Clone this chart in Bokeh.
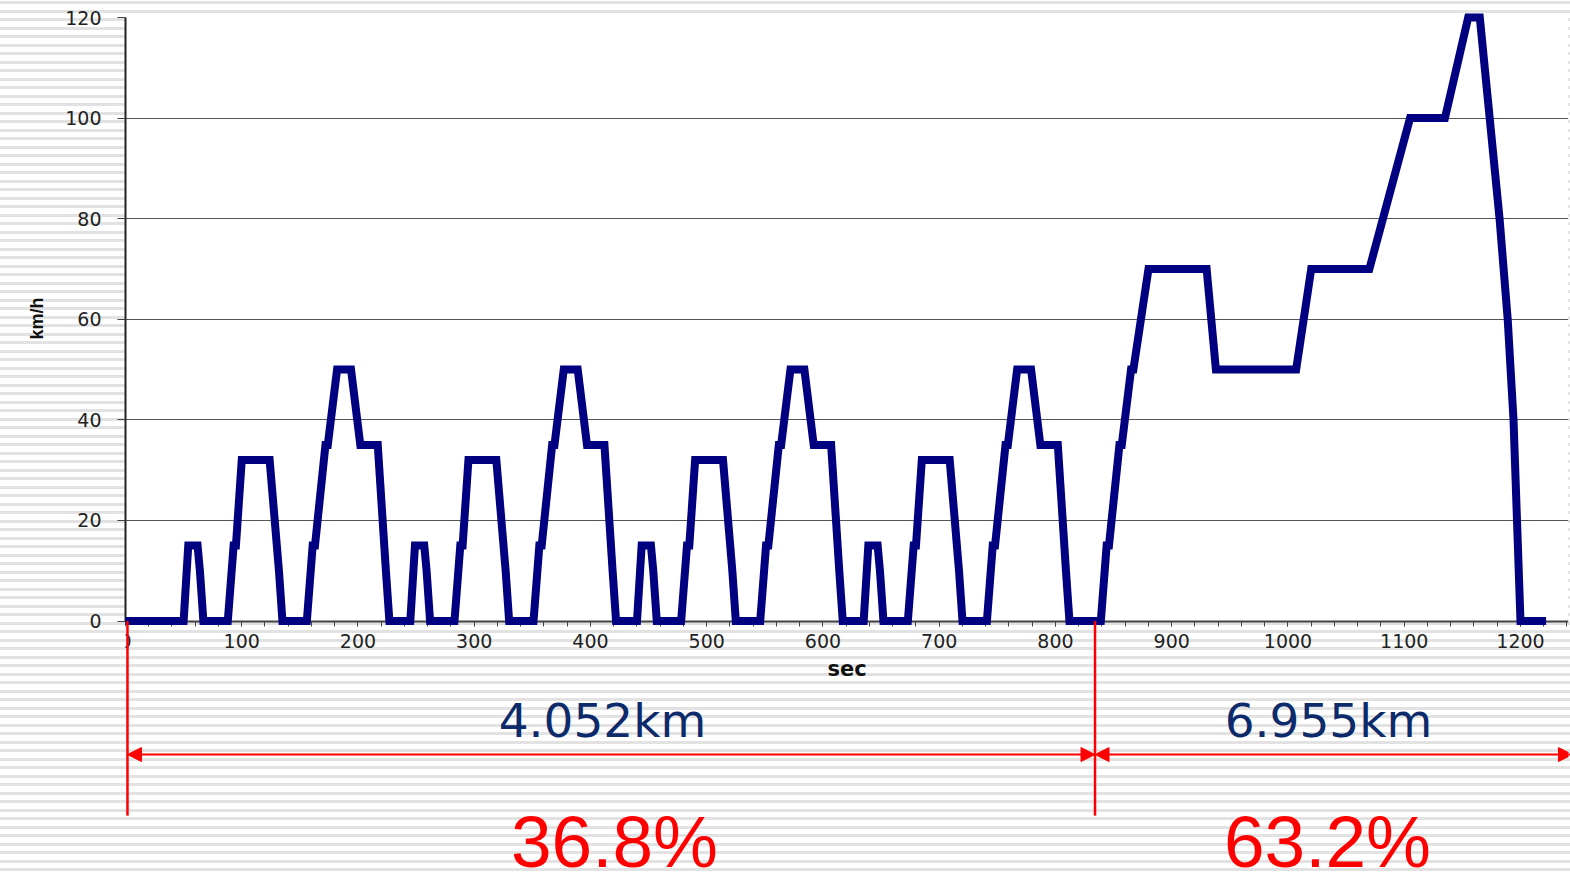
from bokeh.plotting import figure
from bokeh.models import (Range1d, SingleIntervalTicker, FixedTicker, BoxAnnotation,
                          Label, Arrow, NormalHead, InlineStyleSheet, Title)
from bokeh.embed import file_html
from bokeh.resources import INLINE

# ---------------- data ----------------
# one ECE-15 urban cycle (speed in km/h at each breakpoint)
ECE_SPEED = [0, 15, 15, 10, 0, 0, 15, 15, 32, 32, 10, 0, 0, 15, 15, 35, 35, 50, 50, 35, 35, 35, 10, 0]
ECE1_TIME = [50, 54, 62, 64, 67, 88, 93, 95, 100, 124, 132, 135, 156, 161, 163, 172, 174, 182, 194, 202, 215, 217, 224, 227]
ECE2_TIME = [245, 249, 257, 259, 262, 283, 288, 290, 295, 319, 327, 330, 351, 356, 358, 367, 369, 377, 389, 397, 410, 412, 419, 422]
ECE3_TIME = [440, 444, 452, 454, 457, 478, 483, 485, 490, 514, 522, 525, 546, 551, 553, 562, 564, 572, 584, 592, 605, 607, 614, 617]
ECE4_TIME = [635, 639, 647, 649, 652, 673, 678, 680, 685, 709, 717, 720, 741, 746, 748, 757, 759, 767, 779, 787, 800, 802, 809, 812]
# extra-urban cycle
EUDC_TIME = [839, 844, 846, 855, 857, 865, 867, 880, 930, 938, 1007, 1020, 1070, 1105, 1135, 1155, 1165, 1182, 1189, 1194, 1197, 1200, 1222]
EUDC_SPEED = [0, 15, 15, 35, 35, 50, 50, 70, 70, 50, 50, 70, 70, 100, 100, 120, 120, 80, 60, 40, 20, 0, 0]

Y_TICKS = [0, 20, 40, 60, 80, 100, 120]
X_LABEL = "sec"
Y_LABEL = "km/h"
DIST_LABELS = ["4.052km", "6.955km"]
SHARE_LABELS = ["36.8%", "63.2%"]
SPLIT_SEC = 834          # urban / extra-urban boundary
START_SEC = 1.7

time = [0] + ECE1_TIME + ECE2_TIME + ECE3_TIME + ECE4_TIME + EUDC_TIME
speed = [0] + ECE_SPEED + ECE_SPEED + ECE_SPEED + ECE_SPEED + EUDC_SPEED

# ---------------- figure ----------------
p = figure(frame_width=1443, frame_height=856,
           x_range=Range1d(0, 1241.3), y_range=Range1d(-50.2, 120),
           output_backend="svg", toolbar_location=None,
           min_border_left=125, min_border_right=2, min_border_top=17, min_border_bottom=0)
p.background_fill_alpha = 0
p.border_fill_alpha = 0
p.outline_line_color = None

p.stylesheets = [InlineStyleSheet(css=""":host {
  position: fixed !important; left: 0px !important; top: 0px !important;
  background: repeating-linear-gradient(180deg, #ffffff 0px, #ffffff 1.2px, #e2e2e2 1.2px, #e2e2e2 4.2px, #ffffff 4.2px, #ffffff 8.5px) !important;
}""")]

# white plot area
p.add_layout(BoxAnnotation(bottom=0, top=120, fill_color="white", fill_alpha=1,
                           line_alpha=0, level="image"))

# axes
xa = p.xaxis[0]
xa.fixed_location = 0
xa.ticker = SingleIntervalTicker(interval=100, num_minor_ticks=5)
xa.axis_line_color = "#444444"
xa.axis_line_width = 2
xa.major_tick_in = 0
xa.major_tick_out = 5
xa.minor_tick_in = 0
xa.minor_tick_out = 5
xa.major_tick_line_color = "#444444"
xa.minor_tick_line_color = "#444444"
xa.major_label_text_font = "DejaVu Sans"
xa.major_label_text_font_size = "19px"
xa.major_label_text_color = "#222222"
xa.major_label_standoff = 8
xa.axis_label = X_LABEL
xa.axis_label_text_font = "DejaVu Sans"
xa.axis_label_text_font_style = "bold"
xa.axis_label_text_font_size = "21px"
xa.axis_label_text_color = "#111111"
xa.axis_label_standoff = 5

ya = p.yaxis[0]
ya.bounds = (0, 120)
ya.ticker = FixedTicker(ticks=Y_TICKS)
ya.axis_line_color = "#222222"
ya.axis_line_width = 2
ya.major_tick_in = 0
ya.major_tick_out = 8
ya.major_tick_line_color = "#444444"
ya.minor_tick_line_color = None
ya.major_label_text_font = "DejaVu Sans"
ya.major_label_text_font_size = "19px"
ya.major_label_text_color = "#222222"
ya.major_label_standoff = 16

p.xgrid.grid_line_color = None
p.ygrid.ticker = FixedTicker(ticks=Y_TICKS[1:])
p.ygrid.grid_line_color = "#555555"
p.ygrid.grid_line_width = 1

# y axis title as a side-panel title, placed beside the 0..120 span
p.add_layout(Title(text=Y_LABEL, align="left", offset=534, vertical_align="top", standoff=27,
                   text_font="Liberation Sans", text_font_style="bold",
                   text_font_size="18px", text_color="#111111"), "left")

# speed trace
p.line(time, speed, line_color="#000080", line_width=8, line_join="miter", level="overlay")

# annotation: boundaries, arrows, texts
p.segment(x0=[START_SEC, SPLIT_SEC], y0=[0, 0], x1=[START_SEC, SPLIT_SEC], y1=[-38.7, -38.7],
          line_color="#ff0000", line_width=2.5, level="overlay")
for xs, xe in [(START_SEC, SPLIT_SEC), (SPLIT_SEC, 1244.7)]:
    p.add_layout(Arrow(x_start=xs, y_start=-26.55, x_end=xe, y_end=-26.55,
                       line_color="#ff0000", line_width=2,
                       start=NormalHead(size=14, fill_color="#ff0000", line_color="#ff0000"),
                       end=NormalHead(size=14, fill_color="#ff0000", line_color="#ff0000")))

for xc, txt in zip([410.3, 1034.8], DIST_LABELS):
    p.add_layout(Label(x=xc, y=-19.8, text=txt, text_align="center", text_baseline="alphabetic",
                       text_font="DejaVu Sans", text_font_size="47px", text_color="#0d2b6b"))
for xc, txt in zip([420.6, 1034.0], SHARE_LABELS):
    p.add_layout(Label(x=xc, y=-43.8, text=txt, text_align="center", text_baseline="alphabetic",
                       text_font="Liberation Sans", text_font_size="73px", text_color="#ff0000"))

open("out.html", "w").write(file_html(p, INLINE))
